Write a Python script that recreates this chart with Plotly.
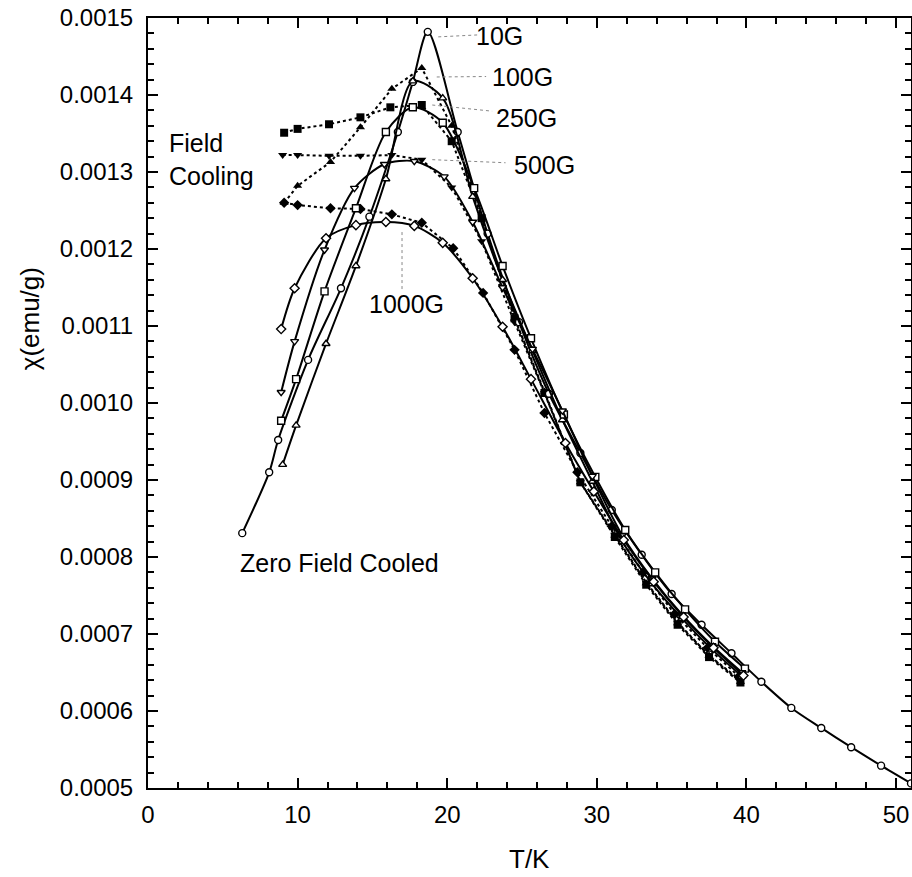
import plotly.graph_objects as go

# ---------------- data ----------------
# Zero-field-cooled curves (solid lines, open markers)
zfc_10G_T = [6.3, 8.1, 8.7, 10.7, 12.9, 14.8, 16.7, 17.7, 18.7, 20.7, 22.7, 24.8, 26.8, 28.9,
             31.0, 33.0, 35.0, 37.0, 39.0, 41.0, 43.0, 45.0, 47.0, 49.0, 51.0]
zfc_10G_chi = [0.000831, 0.000910, 0.000952, 0.001056, 0.001149, 0.001242, 0.001352, 0.001417,
               0.001482, 0.001352, 0.001220, 0.001105, 0.001012, 0.000935, 0.000861, 0.000803,
               0.000752, 0.000712, 0.000675, 0.000638, 0.000604, 0.000578, 0.000553, 0.000529,
               0.000506]

zfc_100G_T = [9.0, 9.9, 11.9, 13.9, 15.9, 17.7, 19.7, 21.7, 23.7, 25.7, 27.7, 29.7,
              31.7, 33.7, 35.7, 37.7, 39.7]
zfc_100G_chi = [0.000920, 0.000971, 0.001077, 0.001178, 0.001291, 0.001418, 0.001396, 0.001268,
                0.001160, 0.001068, 0.000978, 0.000898, 0.000820, 0.000765, 0.000720, 0.000680,
                0.000645]

zfc_250G_T = [8.9, 9.9, 11.8, 13.9, 15.9, 17.7, 19.7, 21.8, 23.7, 25.6, 27.8, 29.9,
              31.9, 33.9, 35.9, 37.9, 39.9]
zfc_250G_chi = [0.000977, 0.001031, 0.001145, 0.001253, 0.001352, 0.001384, 0.001364, 0.001279,
                0.001178, 0.001084, 0.000985, 0.000904, 0.000835, 0.000780, 0.000732, 0.000690,
                0.000655]

zfc_500G_T = [8.9, 9.8, 11.8, 13.8, 15.8, 17.8, 19.8, 21.7, 23.7, 25.7, 27.7, 29.7,
              31.7, 33.7, 35.7, 37.7, 39.7]
zfc_500G_chi = [0.001014, 0.001080, 0.001199, 0.001279, 0.001310, 0.001314, 0.001294, 0.001235,
                0.001150, 0.001070, 0.000990, 0.000905, 0.000828, 0.000772, 0.000725, 0.000685,
                0.000650]

zfc_1000G_T = [8.9, 9.8, 11.9, 13.9, 15.9, 17.8, 19.7, 21.7, 23.7, 25.6, 27.9, 29.8,
               31.8, 33.8, 35.8, 37.8, 39.8]
zfc_1000G_chi = [0.001096, 0.001149, 0.001214, 0.001231, 0.001235, 0.001230, 0.001208, 0.001162,
                 0.001099, 0.001031, 0.000948, 0.000885, 0.000822, 0.000768, 0.000722, 0.000682,
                 0.000646]

# Field-cooled curves (dotted lines, filled markers)
fc_100G_T = [9.1, 10.0, 12.2, 14.2, 16.3, 18.3, 20.3, 22.3, 24.5, 26.5, 28.9, 31.2, 33.3, 35.4, 37.5, 39.6]
fc_100G_chi = [0.001260, 0.001282, 0.001313, 0.001358, 0.001408, 0.001435, 0.001360, 0.001240,
               0.001110, 0.001015, 0.000897, 0.000828, 0.000766, 0.000714, 0.000672, 0.000638]

fc_250G_T = [9.1, 10.0, 12.1, 14.2, 16.2, 18.3, 20.3, 22.3, 24.5, 26.5, 28.9, 31.2, 33.3, 35.4, 37.5, 39.6]
fc_250G_chi = [0.001351, 0.001356, 0.001362, 0.001371, 0.001384, 0.001387, 0.001340, 0.001240,
               0.001110, 0.001013, 0.000897, 0.000826, 0.000764, 0.000712, 0.000670, 0.000637]

fc_500G_T = [9.0, 10.0, 12.1, 14.2, 16.3, 18.3, 20.3, 22.3, 24.5, 26.5, 28.9, 31.2, 33.3, 35.4, 37.5, 39.6]
fc_500G_chi = [0.001322, 0.001322, 0.001321, 0.001321, 0.001322, 0.001316, 0.001280, 0.001210,
               0.001105, 0.001013, 0.000897, 0.000829, 0.000767, 0.000715, 0.000672, 0.000640]

fc_1000G_T = [9.1, 10.0, 12.2, 14.2, 16.3, 18.3, 20.4, 22.4, 24.5, 26.5, 28.7, 31.0, 33.1, 35.2, 37.4, 39.5]
fc_1000G_chi = [0.001260, 0.001257, 0.001253, 0.001252, 0.001245, 0.001234, 0.001201, 0.001143,
                0.001069, 0.000987, 0.000910, 0.000840, 0.000780, 0.000726, 0.000682, 0.000645]

# Field labels: text, label position, leader start, leader end (data units)
field_labels = ["10G", "100G", "250G", "500G", "1000G"]
label_T = [23.5, 25.0, 25.3, 26.5, 17.25]
label_chi = [0.0014766, 0.0014234, 0.0013701, 0.0013091, 0.001129]
leader_T0 = [19.4, 19.3, 19.0, 19.0, 16.98]
leader_chi0 = [0.0014755, 0.0014234, 0.0013870, 0.0013160, 0.001222]
leader_T1 = [22.0, 22.6, 23.0, 23.9, 16.98]
leader_chi1 = [0.0014780, 0.0014240, 0.0013790, 0.0013120, 0.001147]

FONT = "Liberation Sans, Arial, sans-serif"

fig = go.Figure()

zfc = [
    (zfc_10G_T, zfc_10G_chi, "circle"),
    (zfc_100G_T, zfc_100G_chi, "triangle-up"),
    (zfc_250G_T, zfc_250G_chi, "square"),
    (zfc_500G_T, zfc_500G_chi, "triangle-down"),
    (zfc_1000G_T, zfc_1000G_chi, "diamond"),
]
fc = [
    (fc_100G_T, fc_100G_chi, "triangle-up"),
    (fc_250G_T, fc_250G_chi, "square"),
    (fc_500G_T, fc_500G_chi, "triangle-down"),
    (fc_1000G_T, fc_1000G_chi, "diamond"),
]

for T, chi, sym in fc:
    fig.add_trace(go.Scatter(
        x=T, y=chi, mode="lines+markers",
        line=dict(color="black", width=2, dash="dot"),
        marker=dict(symbol=sym, size=8, color="black", line=dict(width=0)),
        showlegend=False, hoverinfo="skip"))

for T, chi, sym in zfc:
    fig.add_trace(go.Scatter(
        x=T, y=chi, mode="lines+markers",
        line=dict(color="black", width=2, shape="spline", smoothing=0.8),
        marker=dict(symbol=sym, size=7, color="white", line=dict(color="black", width=1.4)),
        showlegend=False, hoverinfo="skip"))

# leader lines and field labels
for i in range(len(field_labels)):
    fig.add_shape(type="line", xref="x", yref="y",
                  x0=leader_T0[i], y0=leader_chi0[i], x1=leader_T1[i], y1=leader_chi1[i],
                  line=dict(color="#888888", width=1, dash="dot"))
    fig.add_annotation(x=label_T[i], y=label_chi[i], text=field_labels[i], showarrow=False,
                       xref="x", yref="y", font=dict(family=FONT, size=25, color="black"))

fig.add_annotation(x=1.27, y=0.001316, text="Field<br>Cooling", showarrow=False, xref="x", yref="y",
                   xanchor="left", align="left", font=dict(family=FONT, size=25, color="black"))
fig.add_annotation(x=12.77, y=0.000792, text="Zero Field Cooled", showarrow=False, xref="x", yref="y",
                   font=dict(family=FONT, size=25, color="black"))

# axis titles
fig.add_annotation(x=0.5006, y=-0.092, xref="paper", yref="paper", text="T/K", showarrow=False,
                   xanchor="center", yanchor="middle",
                   font=dict(family=FONT, size=26, color="black"))
fig.add_annotation(x=-0.1547, y=0.610, xref="paper", yref="paper", text="χ(emu/g)", showarrow=False,
                   xanchor="center", yanchor="middle",
                   textangle=-90, font=dict(family=FONT, size=26, color="black"))

axis_common = dict(
    showline=True, linecolor="black", linewidth=2, mirror="allticks",
    ticks="inside", ticklen=10, tickwidth=2, tickcolor="black",
    showgrid=False, zeroline=False, automargin=False,
    ticklabeloverflow="allow",
    tickfont=dict(family=FONT, size=24, color="black"),
)

fig.update_xaxes(range=[0, 51], dtick=10, tick0=0,
                 minor=dict(dtick=2, ticks="inside", ticklen=6, tickwidth=1.5, tickcolor="black"),
                 ticklabelstandoff=4,
                 **axis_common)
fig.update_yaxes(range=[0.0005, 0.0015], dtick=0.0001, tick0=0.0005, tickformat=".4f",
                 minor=dict(dtick=0.00002, ticks="inside", ticklen=6, tickwidth=1.5, tickcolor="black"),
                 ticklabelstandoff=8,
                 **axis_common)

fig.update_layout(
    width=912, height=877,
    margin=dict(l=148, r=1, t=18, b=89),
    paper_bgcolor="white", plot_bgcolor="white",
    showlegend=False,
)

# remove the browser's default 8px page margin so the figure fills the window exactly
fig.write_html("out.html", config={"displayModeBar": False},
               post_script="document.body.style.margin='0';")
